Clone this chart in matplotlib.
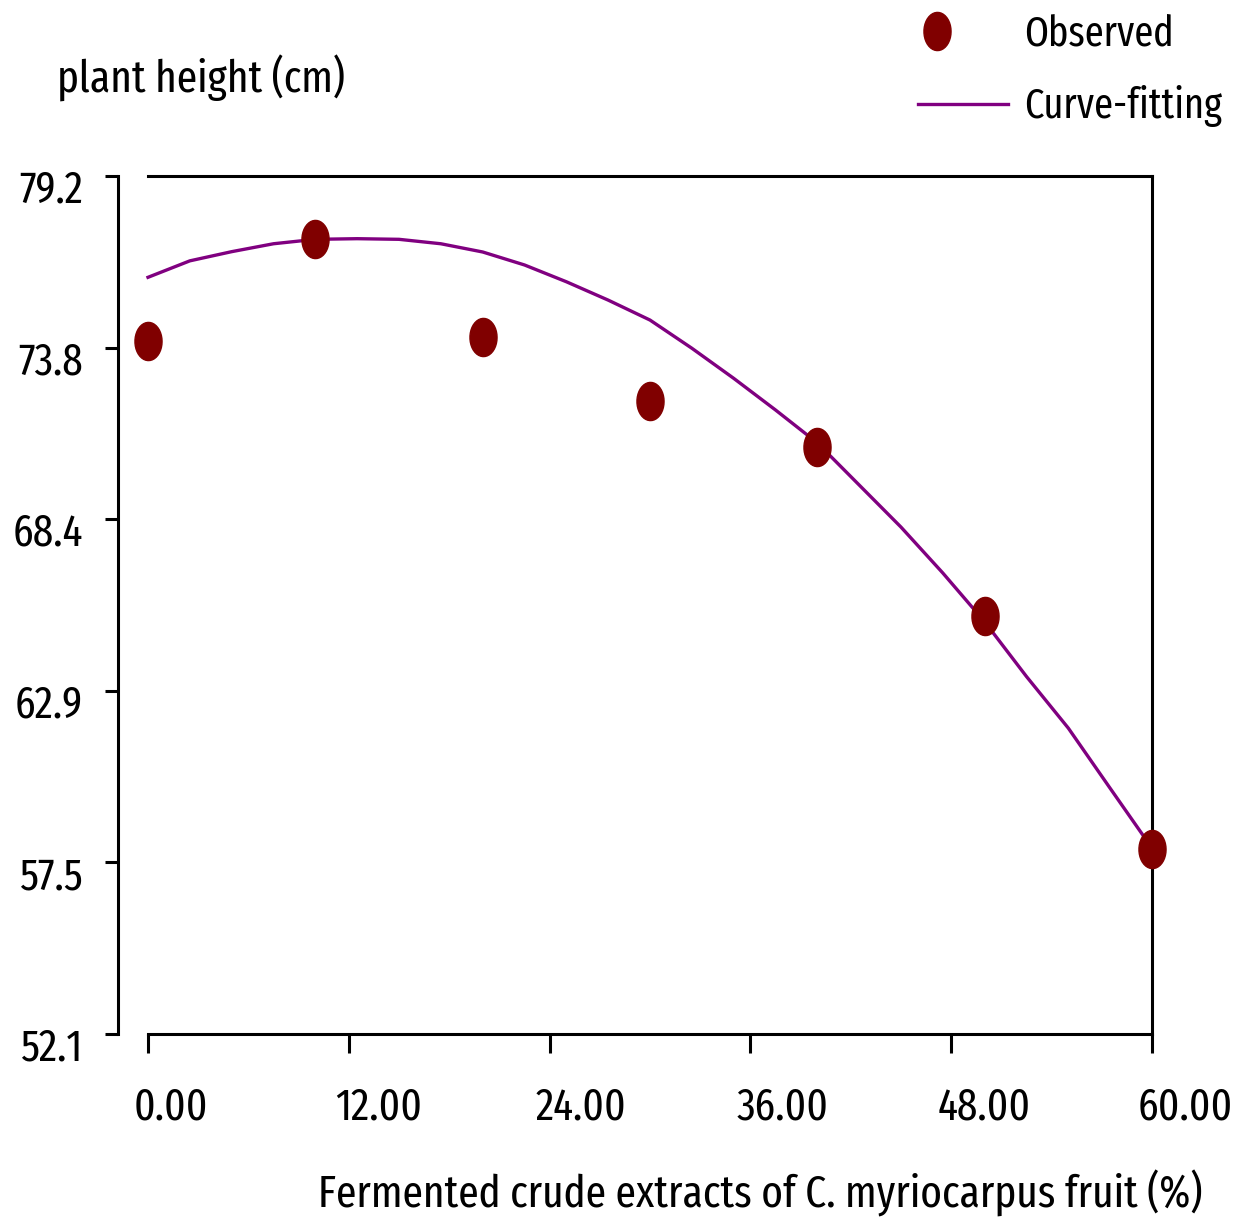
import numpy as np
import matplotlib
matplotlib.use('Agg')
import matplotlib.pyplot as plt
from matplotlib.path import Path
from matplotlib.transforms import ScaledTranslation
from matplotlib.legend_handler import HandlerLine2D

plt.rcParams['font.family'] = ['Fira Sans Extra Condensed', 'Roboto Condensed', 'DejaVu Sans']

# observed plant height (cm) vs fermented crude extract (%)
conc = [0, 10, 20, 30, 40, 50, 60]
height = [74.0, 77.2, 74.1, 72.1, 70.65, 65.3, 57.95]

# fitted curve, every 2.5 %
fit_conc = [0, 2.5, 5, 7.5, 10, 12.5, 15, 17.5, 20, 22.5, 25, 27.5, 30,
            32.5, 35, 37.5, 40, 42.5, 45, 47.5, 50, 52.5, 55, 57.5, 60]
fit_height = [76.0, 76.52, 76.81, 77.06, 77.2, 77.22, 77.2, 77.06, 76.8, 76.39, 75.86, 75.28, 74.65,
              73.76, 72.81, 71.81, 70.77, 69.44, 68.11, 66.66, 65.12, 63.39, 61.76, 59.86, 57.97]

xticks = [0, 12, 24, 36, 48, 60]
xticklabels = ['0.00', '12.00', '24.00', '36.00', '48.00', '60.00']
yticks = [52.1, 57.52, 62.94, 68.36, 73.78, 79.2]
yticklabels = ['52.1', '57.5', '62.9', '68.4', '73.8', '79.2']

xlabel = 'Fermented crude extracts of C. myriocarpus fruit (%)'
ylabel = 'plant height (cm)'

W, H = 1233, 1217
dpi = 100
px = 72 / dpi  # points per pixel


class LeftMarker(HandlerLine2D):
    # marker sits near the left end of the handle box, as in the original
    # (with one point the marker goes at the middle of xdata, so shorten it)
    def get_xdata(self, legend, xdescent, ydescent, width, height, fontsize):
        xdata = np.array([-xdescent, -xdescent + 38 * px])
        return xdata, np.array([-xdescent + 19 * px])


fig = plt.figure(figsize=(W / dpi, H / dpi), dpi=dpi)

# size the font so the x label spans the same width as in the original (~884 px)
tmp = fig.text(0, 0, xlabel, fontsize=30)
fig.canvas.draw()
wpx = tmp.get_window_extent(fig.canvas.get_renderer()).width
tmp.remove()
fs = 30 * 884 / wpx

ax = fig.add_axes([148 / W, 1 - 1034 / H, (1152 - 148) / W, (1034 - 176) / H])

# tall ellipse marker like the original
t = np.linspace(0, 2 * np.pi, 40)
ell = Path(np.column_stack((0.71 * np.cos(t), np.sin(t))))

ax.plot(fit_conc, fit_height, color='#800080', lw=2.4, label='Curve-fitting', clip_on=False, zorder=2)
obs, = ax.plot(conc, height, ls='none', marker=ell, ms=27.5, color='#800000', mec='#800000',
               label='Observed', clip_on=False, zorder=3)

ax.set_xlim(0, 60)
ax.set_ylim(52.1, 79.2)
ax.set_xticks(xticks)
ax.set_xticklabels(xticklabels)
ax.set_yticks(yticks)
ax.set_yticklabels(yticklabels)

for s in ax.spines.values():
    s.set_linewidth(2.2)
ax.spines['left'].set_position(('outward', 30 * px))

ax.tick_params(axis='x', direction='out', length=19 * px, width=2.2, pad=24, labelsize=fs)
ax.tick_params(axis='y', direction='out', length=13 * px, width=2.2, pad=16, labelsize=fs)

off_x = ScaledTranslation(-14 / dpi, 0, fig.dpi_scale_trans)
for lab in ax.get_xticklabels():
    lab.set_ha('left')
    lab.set_transform(lab.get_transform() + off_x)
off_y = ScaledTranslation(0, -10 / dpi, fig.dpi_scale_trans)
for lab in ax.get_yticklabels():
    lab.set_transform(lab.get_transform() + off_y)

fig.text(57 / W, 1 - 93 / H, ylabel, fontsize=fs, va='baseline', ha='left')
fig.text(318 / W, 1 - 1208 / H, xlabel, fontsize=fs, va='baseline', ha='left')

lfs = fs * 0.93
h, l = ax.get_legend_handles_labels()
ax.legend(h[::-1], l[::-1], loc='upper left', bbox_to_anchor=(918 / W, 1 - 14 / H),
          bbox_transform=fig.transFigure, frameon=False, fontsize=lfs, borderpad=0,
          handlelength=(90 * px) / lfs, handletextpad=(16 * px) / lfs,
          labelspacing=0.3 + (18 * px) / lfs, borderaxespad=0,
          handler_map={obs: LeftMarker()})

fig.savefig('out.png', dpi=dpi)
